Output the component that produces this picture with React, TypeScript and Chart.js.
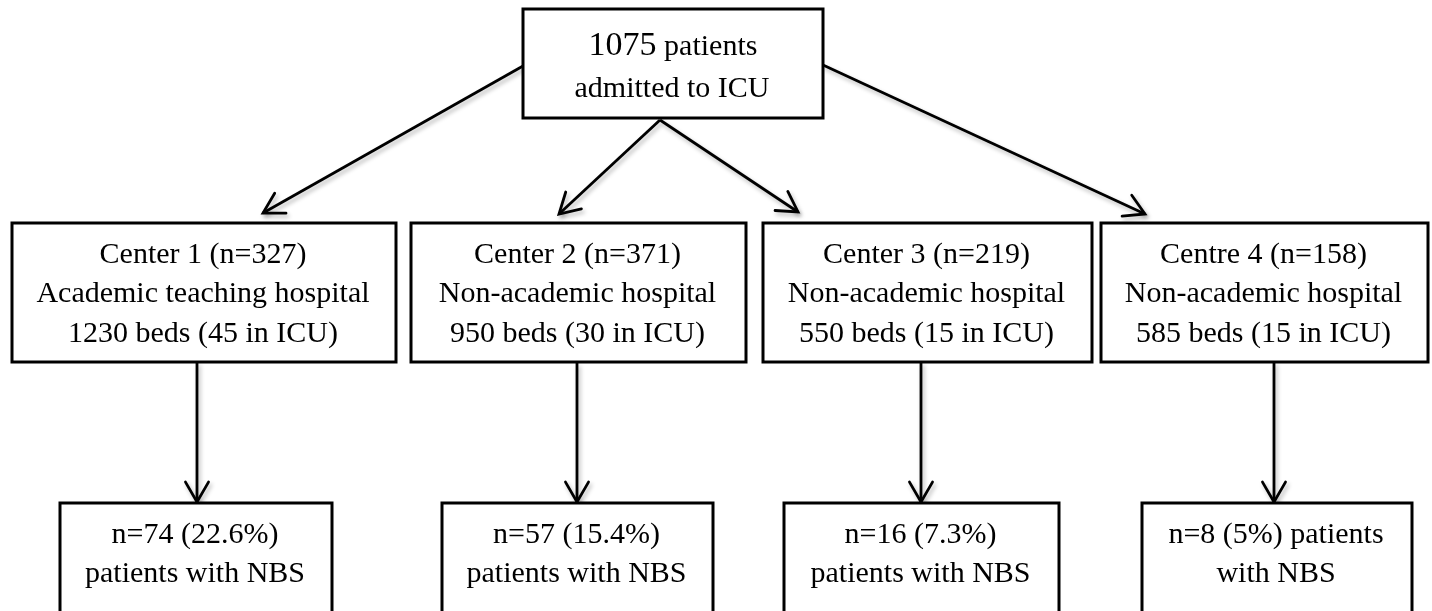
import React, { useEffect, useRef } from "react";
import { Chart, registerables } from "chart.js";

Chart.register(...registerables);

// ---- Data ----
const totalPatients = 1075;
const centerNames = ["Center 1", "Center 2", "Center 3", "Centre 4"];
const centerN = [327, 371, 219, 158];
const hospitalTypes = [
  "Academic teaching hospital",
  "Non-academic hospital",
  "Non-academic hospital",
  "Non-academic hospital",
];
const hospitalBeds = [1230, 950, 550, 585];
const icuBeds = [45, 30, 15, 15];
const nbsN = [74, 57, 16, 8];
const nbsPct = ["22.6", "15.4", "7.3", "5"];

// ---- Layout (pixel units of the 1432x611 canvas, mapped through scales) ----
const W = 1432;
const H = 611;
const TOP_BOX = { x1: 523, y1: 9, x2: 823, y2: 118, lines: [55, 97] };
const MID_X = [
  [12, 396],
  [411, 746],
  [763, 1092],
  [1101, 1428],
];
const MID_Y = { y1: 223, y2: 362, lines: [263, 302, 342] };
const BOT_X = [
  [60, 332],
  [442, 713],
  [784, 1059],
  [1142, 1412],
];
const BOT_Y = { y1: 503, y2: 630, lines: [543, 582] };
const ARROWS = [
  [[523, 66], [263, 213]],
  [[660, 120], [559, 214]],
  [[660, 120], [798, 212]],
  [[823, 65], [1145, 214]],
  [[197, 362], [197, 502]],
  [[577, 363], [577, 502]],
  [[921, 362], [921, 502]],
  [[1274, 362], [1274, 502]],
];

const FONT = "'Liberation Serif', 'Times New Roman', Times, serif";

function midLines(i: number): string[] {
  return [
    `${centerNames[i]} (n=${centerN[i]})`,
    hospitalTypes[i],
    `${hospitalBeds[i]} beds (${icuBeds[i]} in ICU)`,
  ];
}
function botLines(i: number): string[] {
  const head = `n=${nbsN[i]} (${nbsPct[i]}%)`;
  if (i === 3) return [`${head} patients`, "with NBS"];
  return [head, "patients with NBS"];
}

const flowPlugin = {
  id: "flow",
  beforeDatasetsDraw(chart: any) {
    const ctx = chart.ctx;
    ctx.save();
    ctx.shadowColor = "rgba(0,0,0,0.28)";
    ctx.shadowBlur = 4;
    ctx.shadowOffsetX = 2;
    ctx.shadowOffsetY = 3;
  },
  afterDatasetsDraw(chart: any) {
    const ctx = chart.ctx;
    // arrowheads (still with shadow)
    chart.data.datasets.forEach((_ds: any, i: number) => {
      const meta = chart.getDatasetMeta(i);
      const p0 = meta.data[0];
      const p1 = meta.data[1];
      const ang = Math.atan2(p1.y - p0.y, p1.x - p0.x);
      const len = 23;
      const spread = Math.PI / 6;
      ctx.beginPath();
      ctx.moveTo(p1.x - len * Math.cos(ang - spread), p1.y - len * Math.sin(ang - spread));
      ctx.lineTo(p1.x, p1.y);
      ctx.lineTo(p1.x - len * Math.cos(ang + spread), p1.y - len * Math.sin(ang + spread));
      ctx.strokeStyle = "#000";
      ctx.lineWidth = 2.8;
      ctx.lineJoin = "miter";
      ctx.lineCap = "round";
      ctx.stroke();
    });
    ctx.restore();

    const xs = chart.scales.x;
    const ys = chart.scales.y;
    const px = (v: number) => xs.getPixelForValue(v);
    const py = (v: number) => ys.getPixelForValue(v);

    const box = (x1: number, y1: number, x2: number, y2: number) => {
      const l = px(x1), t = py(y1), r = px(x2), b = py(y2);
      ctx.save();
      ctx.fillStyle = "#fff";
      ctx.fillRect(l, t, r - l, b - t);
      ctx.strokeStyle = "#000";
      ctx.lineWidth = 3;
      ctx.lineJoin = "miter";
      ctx.strokeRect(l, t, r - l, b - t);
      ctx.restore();
    };
    const text = (s: string, cx: number, base: number, size = 30) => {
      ctx.save();
      ctx.font = `${size}px ${FONT}`;
      ctx.fillStyle = "#000";
      ctx.textAlign = "center";
      ctx.textBaseline = "alphabetic";
      ctx.fillText(s, px(cx), py(base));
      ctx.restore();
    };

    // top box
    box(TOP_BOX.x1, TOP_BOX.y1, TOP_BOX.x2, TOP_BOX.y2);
    {
      const cx = px((TOP_BOX.x1 + TOP_BOX.x2) / 2);
      const base = py(TOP_BOX.lines[0]);
      const big = String(totalPatients);
      const small = " patients";
      ctx.save();
      ctx.fillStyle = "#000";
      ctx.textBaseline = "alphabetic";
      ctx.textAlign = "left";
      ctx.font = `34px ${FONT}`;
      const wBig = ctx.measureText(big).width;
      ctx.font = `30px ${FONT}`;
      const wSmall = ctx.measureText(small).width;
      const start = cx - (wBig + wSmall) / 2;
      ctx.font = `34px ${FONT}`;
      ctx.fillText(big, start, base);
      ctx.font = `30px ${FONT}`;
      ctx.fillText(small, start + wBig, base);
      ctx.restore();
      text("admitted to ICU", (TOP_BOX.x1 + TOP_BOX.x2) / 2 - 1, TOP_BOX.lines[1]);
    }

    // middle boxes
    MID_X.forEach(([x1, x2], i) => {
      box(x1, MID_Y.y1, x2, MID_Y.y2);
      midLines(i).forEach((s, k) => text(s, (x1 + x2) / 2 - 1, MID_Y.lines[k]));
    });

    // bottom boxes
    BOT_X.forEach(([x1, x2], i) => {
      box(x1, BOT_Y.y1, x2, BOT_Y.y2);
      botLines(i).forEach((s, k) => text(s, (x1 + x2) / 2 - 1, BOT_Y.lines[k]));
    });
  },
};

export default function App() {
  const ref = useRef<HTMLCanvasElement | null>(null);
  useEffect(() => {
    if (!ref.current) return;
    const chart = new Chart(ref.current, {
      type: "scatter",
      data: {
        datasets: ARROWS.map(([a, b], i) => ({
          label: `arrow${i}`,
          data: [
            { x: a[0], y: a[1] },
            { x: b[0], y: b[1] },
          ],
          showLine: true,
          borderColor: "#000",
          backgroundColor: "#000",
          borderWidth: 2.8,
          pointRadius: 0,
          pointHoverRadius: 0,
          clip: false,
        })),
      },
      options: {
        animation: false,
        responsive: false,
        maintainAspectRatio: false,
        events: [],
        layout: { padding: 0 },
        plugins: {
          legend: { display: false },
          tooltip: { enabled: false },
          title: { display: false },
        },
        scales: {
          x: { type: "linear", min: 0, max: W, display: false },
          y: { type: "linear", min: 0, max: H, reverse: true, display: false },
        },
      } as any,
      plugins: [flowPlugin],
    });
    return () => chart.destroy();
  }, []);
  return (
    <div style={{ position: "absolute", left: 0, top: 0, width: W, height: H, background: "#fff" }}>
      <canvas ref={ref} width={W} height={H} style={{ display: "block", width: W, height: H }} />
    </div>
  );
}
